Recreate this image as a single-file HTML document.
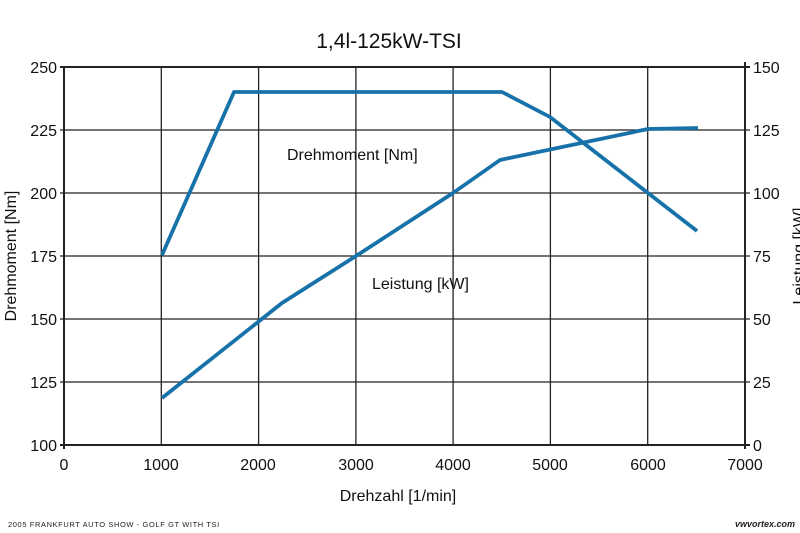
<!DOCTYPE html>
<html><head><meta charset="utf-8"><style>
body{margin:0;background:#fff;}
svg{display:block;font-family:"Liberation Sans",Arial,sans-serif;}
</style></head><body>
<svg width="800" height="533" viewBox="0 0 800 533">
<rect width="800" height="533" fill="#fff"/>
<text x="389" y="48" font-size="21" text-anchor="middle" fill="#111">1,4l-125kW-TSI</text>
<g stroke="#222" stroke-width="1.3">
<line x1="161.3" y1="67" x2="161.3" y2="445"/><line x1="258.6" y1="67" x2="258.6" y2="445"/>
<line x1="355.9" y1="67" x2="355.9" y2="445"/><line x1="453.1" y1="67" x2="453.1" y2="445"/>
<line x1="550.4" y1="67" x2="550.4" y2="445"/><line x1="647.7" y1="67" x2="647.7" y2="445"/>
<line x1="60" y1="130" x2="750" y2="130"/><line x1="60" y1="193" x2="750" y2="193"/>
<line x1="60" y1="256" x2="750" y2="256"/><line x1="60" y1="319" x2="750" y2="319"/>
<line x1="60" y1="382" x2="750" y2="382"/>
<line x1="60" y1="67" x2="750" y2="67" stroke-width="2"/>
<line x1="60" y1="445" x2="750" y2="445" stroke-width="2"/>
<line x1="64" y1="67" x2="64" y2="449" stroke-width="2"/>
<line x1="745" y1="62" x2="745" y2="449" stroke-width="2"/>
</g>
<g font-size="16" fill="#111" text-anchor="end">
<text x="57" y="73">250</text><text x="57" y="136">225</text><text x="57" y="199">200</text>
<text x="57" y="262">175</text><text x="57" y="325">150</text><text x="57" y="388">125</text><text x="57" y="451">100</text>
</g>
<g font-size="16" fill="#111">
<text x="753" y="73">150</text><text x="753" y="136">125</text><text x="753" y="199">100</text>
<text x="753" y="262">75</text><text x="753" y="325">50</text><text x="753" y="388">25</text><text x="753" y="451">0</text>
</g>
<g font-size="16" fill="#111" text-anchor="middle">
<text x="64" y="470">0</text><text x="161" y="470">1000</text><text x="258" y="470">2000</text>
<text x="356" y="470">3000</text><text x="453" y="470">4000</text><text x="550" y="470">5000</text>
<text x="648" y="470">6000</text><text x="745" y="470">7000</text>
</g>
<text x="398" y="501" font-size="16" text-anchor="middle" fill="#111">Drehzahl [1/min]</text>
<text transform="translate(16,256) rotate(-90)" font-size="16" text-anchor="middle" fill="#111">Drehmoment [Nm]</text>
<text transform="translate(804,256) rotate(-90)" font-size="16" text-anchor="middle" fill="#111">Leistung [kW]</text>
<text x="287" y="160" font-size="16" fill="#111">Drehmoment [Nm]</text>
<text x="372" y="289" font-size="16" fill="#111">Leistung [kW]</text>
<g fill="none" stroke="#1872aa" stroke-width="3.8" stroke-linejoin="round">
<polyline points="162,255 234,92 502,92 550,117 648,193 697,231"/>
<polyline points="162,398 282,303 356,256 453,193 500,160 648,129 698,128"/>
</g>
<text x="8" y="527" font-size="7.5" fill="#222" letter-spacing="0.6">2005 FRANKFURT AUTO SHOW - GOLF GT WITH TSI</text>
<text x="795" y="527" font-size="9" font-weight="bold" font-style="italic" text-anchor="end" fill="#222">vwvortex.com</text>
</svg>
</body></html>
